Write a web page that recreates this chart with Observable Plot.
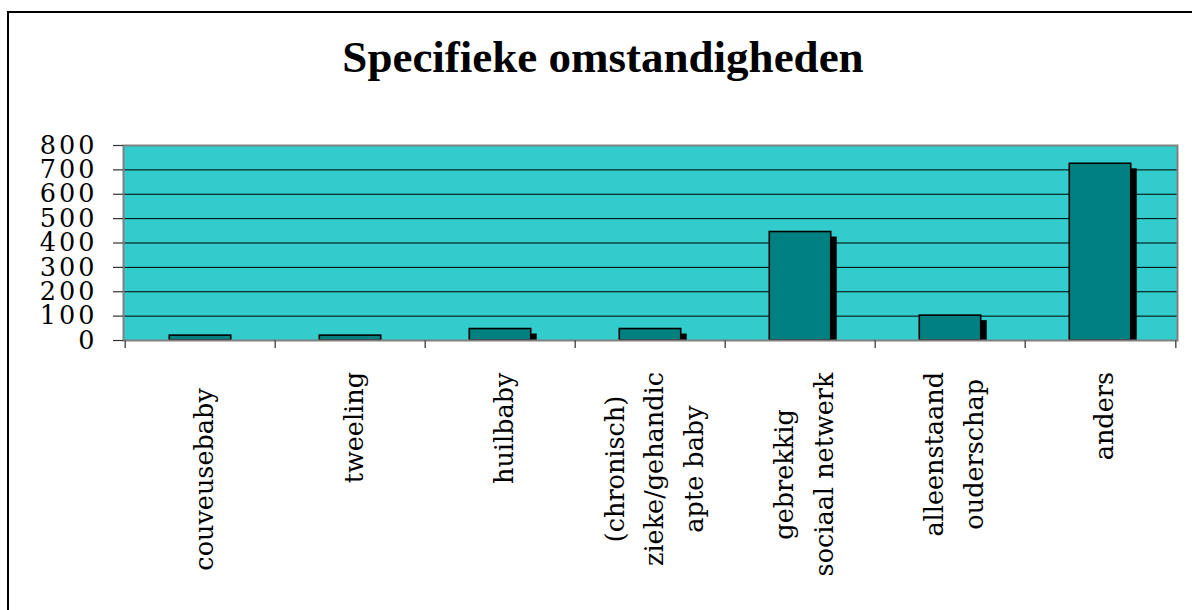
<!DOCTYPE html>
<html>
<head>
<meta charset="utf-8">
<script src="https://cdn.jsdelivr.net/npm/d3@7"></script>
<script src="https://cdn.jsdelivr.net/npm/@observablehq/plot@0.6"></script>
<style>
  html, body { margin: 0; padding: 0; background: #fff; }
  #wrap { position: relative; width: 1192px; height: 610px; overflow: hidden; background: #fff; }
  #border { position: absolute; left: 7px; top: 11px; width: 1300px; height: 700px; border-left: 2px solid #000; border-top: 2px solid #000; box-sizing: border-box; }
  #title { position: absolute; left: 0; top: 35px; width: 1206px; text-align: center;
           font-family: "Liberation Serif", "Times New Roman", serif; font-weight: bold; font-size: 45px; line-height: 45px; color: #000; }
  #chart { position: absolute; left: 0; top: 0; }
  g[aria-label="y-axis tick label"] text { letter-spacing: 3px; }
</style>
</head>
<body>
<div id="wrap">
  <div id="border"></div>
  <div id="chart"></div>
  <div id="title">Specifieke omstandigheden</div>
</div>
<script>
// ---- data ----
const categories = ["couveusebaby", "tweeling", "huilbaby", "zieke baby", "sociaal netwerk", "alleenstaand", "anders"];
const xLabels = ["couveusebaby\u00a0\u00a0", "tweeling", "huilbaby", "(chronisch)\nzieke/gehandic\napte baby", "gebrekkig\nsociaal netwerk", "alleenstaand\nouderschap", "anders"];
const counts = [20, 20, 47, 47, 445, 102, 725];
const yTicks = [0, 100, 200, 300, 400, 500, 600, 700, 800];
const gridValues = [100, 200, 300, 400, 500, 600, 700];

const table = categories.map((c, i) => ({ category: c, label: xLabels[i], count: counts[i] }));

const W = 1192, H = 610;
const mL = 123, mR = 15, mT = 145, mB = 270;
const step = (W - mL - mR) / categories.length;
const barW = 62;
const inset = (step - barW) / 2;

const svg = Plot.plot({
  width: W,
  height: H,
  marginLeft: mL,
  marginRight: mR,
  marginTop: mT,
  marginBottom: mB,
  style: { fontFamily: "DejaVu Serif", fontSize: "25.5px", color: "#000", background: "transparent", overflow: "visible" },
  x: { type: "band", domain: categories, padding: 0, axis: null, label: null },
  y: { domain: [0, 800], axis: null, label: null },
  marks: [
    Plot.frame({ fill: "#33CCCC" }),
    Plot.ruleY(gridValues, { stroke: "#000", strokeWidth: 1 }),
    // shadow
    Plot.barY(table, { x: "category", y: "count", fill: "#000", insetLeft: inset, insetRight: inset, insetBottom: 5, dx: 6, dy: 5 }),
    // bars
    Plot.barY(table, { x: "category", y: "count", fill: "#008080", stroke: "#000", strokeWidth: 1.6, insetLeft: inset, insetRight: inset }),
    Plot.frame({ stroke: "#808080", strokeWidth: 2 }),
    // x ticks at band edges
    Plot.ruleX(categories, { x: d => d, dx: -step / 2, stroke: "#555", strokeWidth: 1.5, insetTop: H - mT - mB, insetBottom: -8 }),
    Plot.ruleX(categories.slice(-1), { x: d => d, dx: step / 2, stroke: "#555", strokeWidth: 1.5, insetTop: H - mT - mB, insetBottom: -8 }),
    Plot.axisY({ ticks: yTicks, label: null, tickSize: 10, tickPadding: 16, stroke: "#333", strokeWidth: 1.2, fill: "#000", fontSize: 25.5, fontFamily: "DejaVu Serif", tickFormat: d => String(d) }),
    Plot.text(table, { x: "category", text: "label", frameAnchor: "bottom", rotate: -90, textAnchor: "middle", lineAnchor: "middle", lineHeight: 1.55, fontSize: 25.5, fill: "#000", dy: 120 })
  ]
});

document.getElementById("chart").appendChild(svg);

// align the tops of the rotated category labels
const labelTop = 372;
const svgRect = svg.getBoundingClientRect();
svg.querySelectorAll('g[aria-label="text"] text').forEach(t => {
  const r = t.getBoundingClientRect();
  const delta = labelTop - (r.top - svgRect.top);
  t.setAttribute("transform", `translate(0,${delta}) ` + (t.getAttribute("transform") || ""));
});
</script>
</body>
</html>
